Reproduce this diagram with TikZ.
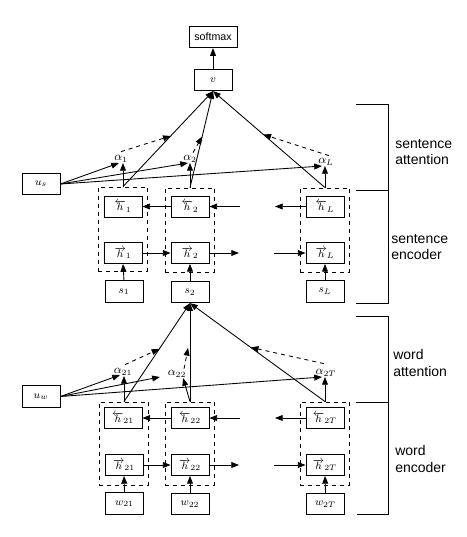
\documentclass[tikz,border=0pt]{standalone}
\usepackage{fontspec}
\setsansfont{Liberation Sans}
\usetikzlibrary{arrows.meta,calc}
\begin{document}
\begin{tikzpicture}[x=0.75pt,y=-0.75pt,
  box/.style={draw, line width=0.65pt, minimum width=28.5pt, minimum height=16pt, inner sep=0pt, font=\footnotesize},
  hbox/.style={box, minimum height=15.75pt},
  dbox/.style={draw, dashed, line width=0.65pt, minimum width=37pt, minimum height=63pt, inner sep=0pt},
  arr/.style={-{Triangle[length=5.8pt,width=4.4pt]}, line width=0.65pt},
  darr/.style={arr, dashed},
  lab/.style={inner sep=0.5pt, anchor=south, font=\small},
  side/.style={font=\sffamily\fontsize{10.5}{12.5}\selectfont, align=left, anchor=west, inner sep=0pt},
  brk/.style={line width=0.65pt}]
\useasboundingbox (0,0) rectangle (467,537);

% ---------- sentence level ----------
\node[box, minimum width=36pt] (sm) at (213,37) {\sffamily\fontsize{8}{9}\selectfont softmax};
\node[box] (v) at (213,80) {$v$};
\node[box] (us) at (41,184) {$u_s$};

\node[dbox] (d1) at (123,229) {};
\node[dbox] (d2) at (190,230) {};
\node[dbox] (dL) at (325,230) {};

\node[hbox] (hb1) at (123,206.5) {$\overleftarrow{h}_{1}$};
\node[hbox] (hb2) at (190,206.5) {$\overleftarrow{h}_{2}$};
\node[hbox] (hbL) at (325,206.5) {$\overleftarrow{h}_{L}$};
\node[hbox] (hf1) at (123,253) {$\overrightarrow{h}_{1}$};
\node[hbox] (hf2) at (190,253) {$\overrightarrow{h}_{2}$};
\node[hbox] (hfL) at (325,253) {$\overrightarrow{h}_{L}$};

\node[box] (s1) at (124,291.5) {$s_1$};
\node[box] (s2) at (190,292) {$s_2$};
\node[box] (sL) at (325,291.5) {$s_L$};

\node[lab] (a1) at (121,163) {$\alpha_1$};
\node[lab] (a2) at (190,163) {$\alpha_2$};
\node[lab] (aL) at (326,166) {$\alpha_L$};

\coordinate (bin) at (240,206.5);
\coordinate (bout) at (275,206.5);
\coordinate (fout) at (239,253);
\coordinate (fin) at (274,253);

\draw[arr] (v.north) -- (sm.south);
\draw[arr] (hb2.west) -- (hb1.east);
\draw[arr] (bin) -- (hb2.east);
\draw[arr] (hbL.west) -- (bout);
\draw[arr] (hf1.east) -- (hf2.west);
\draw[arr] (hf2.east) -- (fout);
\draw[arr] (fin) -- (hfL.west);
\draw[arr] (s1.north) -- (hf1.south);
\draw[arr] (s2.north) -- (hf2.south);
\draw[arr] (sL.north) -- (hfL.south);

\draw[arr] (d1.north) -- (d1.north |- a1.south);
\draw[arr] (d2.north) -- (d2.north |- a2.south);
\draw[arr] (dL.north) -- (dL.north |- aL.south);
\draw[arr] (d1.north) -- (v.south);
\draw[arr] (d2.north) -- (v.south);
\draw[arr] (dL.north) -- (v.south);
\draw[arr] (us.east) -- ($(a1.south)+(-2,0)$);
\draw[arr] (us.east) -- ($(a2.south)+(-2,0)$);
\draw[arr] (us.east) -- ($(aL.south)+(-4,0)$);
\draw[darr] ($(a1.north)+(0,-3)$) -- ($(d1.north)!0.53!(v.south)$);
\draw[darr] ($(a2.north)+(3,-2)$) -- ($(d2.north)!0.53!(v.south)$);
\draw[darr] ($(aL.north)+(3,-2)$) -- ($(dL.north)!0.55!(v.south)$);

% ---------- word level ----------
\node[box] (uw) at (41,396.5) {$u_w$};

\node[dbox, minimum height=62.25pt] (e1) at (124,443.5) {};
\node[dbox, minimum height=62.25pt] (e2) at (190,443.5) {};
\node[dbox, minimum height=62.25pt] (eT) at (325,443.5) {};

\node[hbox] (gb1) at (123,418) {$\overleftarrow{h}_{21}$};
\node[hbox] (gb2) at (190,418) {$\overleftarrow{h}_{22}$};
\node[hbox] (gbT) at (325,418) {$\overleftarrow{h}_{2T}$};
\node[hbox] (gf1) at (124,465) {$\overrightarrow{h}_{21}$};
\node[hbox] (gf2) at (190,465) {$\overrightarrow{h}_{22}$};
\node[hbox] (gfT) at (325,465) {$\overrightarrow{h}_{2T}$};

\node[box] (w1) at (124.5,503.5) {$w_{21}$};
\node[box] (w2) at (190,504) {$w_{22}$};
\node[box] (wT) at (325.5,504) {$w_{2T}$};

\node[lab] (a21) at (123,376) {$\alpha_{21}$};
\node[lab] (a22) at (177,378) {$\alpha_{22}$};
\node[lab] (a2T) at (326,377) {$\alpha_{2T}$};

\coordinate (gbin) at (240,418);
\coordinate (gbout) at (275,418);
\coordinate (gfout) at (239,465);
\coordinate (gfin) at (274,465);

\draw[arr] (gb2.west) -- (gb1.east);
\draw[arr] (gbin) -- (gb2.east);
\draw[arr] (gbT.west) -- (gbout);
\draw[arr] (gf1.east) -- (gf2.west);
\draw[arr] (gf2.east) -- (gfout);
\draw[arr] (gfin) -- (gfT.west);
\draw[arr] (w1.north) -- (gf1.south);
\draw[arr] (w2.north) -- (gf2.south);
\draw[arr] (wT.north) -- (gfT.south);

\draw[arr] (e1.north) -- (e1.north |- a21.south);
\draw[arr] (e2.north) -- ($(a22.south)!0.6!(a22.south east)$);
\draw[arr] (eT.north) -- (eT.north |- a2T.south);
\draw[arr] (e1.north) -- (s2.south);
\draw[arr] (e2.north) -- (s2.south);
\draw[arr] (eT.north) -- (s2.south);
\draw[arr] (uw.east) -- ($(a21.south)+(-3,-1)$);
\draw[arr] (uw.east) -- ($(a22.south west)+(-7,-1)$);
\draw[arr] (uw.east) -- ($(a2T.south)+(-4,0)$);
\draw[darr] ($(a21.north)+(2,-3)$) -- ($(e1.north)!0.535!(s2.south)$);
\draw[darr] ($(a22.north east)+(-3,-1)$) -- ($(e2.north)!0.545!(s2.south)+(-2,0)$);
\draw[darr] ($(a2T.north)+(-2,-5)$) -- ($(eT.north)!0.55!(s2.south)$);

% ---------- brackets ----------
\draw[brk] (356,104) -- (388,104) -- (388,303) -- (356,303);
\draw[brk] (356,190) -- (388,190);
\draw[brk] (356,316) -- (388,316) -- (388,514) -- (357,514);
\draw[brk] (356,402) -- (388,402);

\node[side] (t1) at (395,152) {sentence\\attention};
\node[side] (t2) at (391,247) {sentence\\encoder};
\node[side] (t3) at (393,363) {word\\attention};
\node[side] (t4) at (395,459) {word\\encoder};
\end{tikzpicture}
\end{document}
